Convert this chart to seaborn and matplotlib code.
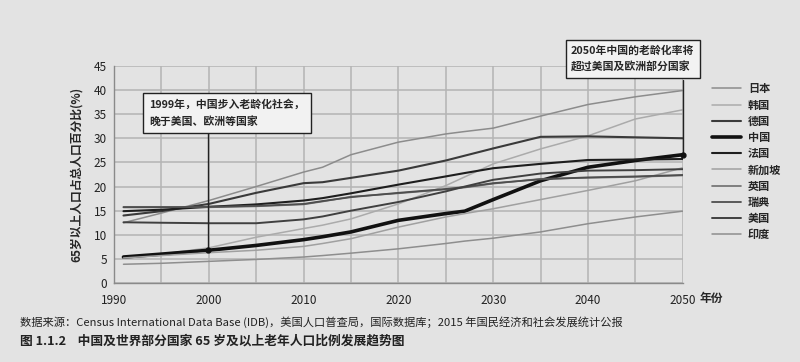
import matplotlib
matplotlib.use("Agg")
import matplotlib.pyplot as plt
import seaborn as sns
import pandas as pd

years = [1991, 1995, 2000, 2005, 2010, 2012, 2015, 2020, 2025, 2027, 2030, 2035, 2040, 2045, 2050]

japan     = [12.5, 14.5, 17.1, 20.0, 23.0, 24.0, 26.6, 29.2, 30.9, 31.4, 32.1, 34.6, 37.0, 38.6, 39.9]
korea     = [5.2, 6.0, 7.3, 9.5, 11.3, 12.0, 13.3, 16.4, 20.2, 22.0, 24.7, 27.8, 30.5, 34.0, 35.9]
germany   = [14.0, 14.9, 16.4, 18.7, 20.7, 20.9, 21.8, 23.3, 25.4, 26.4, 27.9, 30.3, 30.4, 30.2, 30.0]
china     = [5.4, 6.0, 6.8, 7.8, 9.0, 9.6, 10.6, 13.0, 14.4, 14.9, 17.3, 21.2, 24.0, 25.4, 26.6]
france    = [14.9, 15.2, 15.8, 16.3, 17.1, 17.6, 18.6, 20.4, 22.1, 22.8, 23.8, 24.7, 25.5, 25.6, 25.7]
singapore = [5.2, 5.7, 6.3, 6.8, 7.6, 8.2, 9.2, 11.6, 13.7, 14.4, 15.4, 17.3, 19.2, 21.2, 23.9]
uk        = [15.8, 15.8, 15.7, 15.9, 16.3, 16.9, 17.9, 18.6, 19.4, 19.8, 20.6, 21.6, 21.8, 22.0, 22.3]
sweden    = [15.7, 15.7, 15.8, 16.0, 16.4, 17.0, 17.8, 18.7, 19.5, 19.9, 20.7, 21.5, 21.9, 22.1, 22.4]
usa       = [12.6, 12.5, 12.4, 12.4, 13.2, 13.8, 15.0, 16.8, 19.0, 20.0, 21.4, 22.7, 23.3, 23.4, 23.6]
india     = [3.9, 4.1, 4.5, 4.9, 5.4, 5.7, 6.2, 7.1, 8.2, 8.7, 9.3, 10.6, 12.3, 13.7, 14.9]

countries = ["日本", "韩国", "德国", "中国", "法国", "新加坡", "英国", "瑞典", "美国", "印度"]
series = [japan, korea, germany, china, france, singapore, uk, sweden, usa, india]
colors = ["#8c8c8c", "#ababab", "#3a3a3a", "#111111", "#1e1e1e",
          "#a0a0a0", "#6e6e6e", "#4e4e4e", "#404040", "#8e8e8e"]
widths = [1.1, 1.1, 1.5, 2.6, 1.5, 1.1, 1.2, 1.3, 1.4, 1.1]

df = pd.DataFrame({"year": years})
for name, vals in zip(countries, series):
    df[name] = vals

sns.set_style("white")
plt.rcParams['font.family'] = ['Noto Sans CJK SC', 'DejaVu Sans']

bg = "#e3e3e3"
fig = plt.figure(figsize=(8, 3.62), dpi=100, facecolor=bg)
ax = fig.add_axes([0.1425, 0.218, 0.711, 0.600], facecolor=bg)

for name, c, w in zip(countries, colors, widths):
    sns.lineplot(data=df, x="year", y=name, ax=ax, color=c, lw=w, label=name, zorder=3)

ax.set_xlim(1990, 2050)
ax.set_ylim(0, 45)
ax.set_xticks(range(1990, 2051, 10))
ax.set_xticks(range(1990, 2051, 5), minor=True)
ax.set_yticks(range(0, 46, 5))
ax.grid(True, which="both", color="#b4b4b4", lw=1.1, zorder=0)
for s in ["top", "right"]:
    ax.spines[s].set_visible(False)
for s in ["left", "bottom"]:
    ax.spines[s].set_color("#8a8a8a")
    ax.spines[s].set_linewidth(1.0)
ax.tick_params(axis="both", which="both", length=0, labelsize=8.5, colors="#222222")
ax.tick_params(axis="x", pad=8)
ax.tick_params(axis="y", pad=5)
ax.set_xlabel("")
ax.set_ylabel("65岁以上人口占总人口百分比(%)", fontsize=8.5, fontweight="bold", labelpad=8)

ax.text(1.03, -0.07, "年份", transform=ax.transAxes, fontsize=8.5, fontweight="bold",
        ha="left", va="center")

# annotations
cx = 1999.9
cy = df.loc[df.year == 2000, "中国"].iloc[0]
ax.plot([cx, cx], [cy, 32.0], color="#222222", lw=1.0, zorder=4)
ax.plot(cx, cy, "o", color="#111111", ms=3.5, zorder=5)
ax.text(1993.7, 35.3, "1999年，中国步入老龄化社会，\n晚于美国、欧洲等国家", fontsize=7.8,
        fontweight="bold", ha="left", va="center", linespacing=1.7, zorder=6,
        bbox=dict(boxstyle="square,pad=0.55", fc="#f2f2f2", ec="#222222", lw=1.0))

ex = 2050
ey = df.loc[df.year == 2050, "中国"].iloc[0]
ax.plot([ex, ex], [ey, 42.0], color="#222222", lw=1.0, zorder=4, clip_on=False)
ax.plot(ex, ey, "o", color="#111111", ms=3.5, zorder=5, clip_on=False)
ax.text(2038.2, 46.4, "2050年中国的老龄化率将\n超过美国及欧洲部分国家", fontsize=7.8,
        fontweight="bold", ha="left", va="center", linespacing=1.7, zorder=6,
        bbox=dict(boxstyle="square,pad=0.5", fc="#f2f2f2", ec="#222222", lw=1.0))

handles, labels = ax.get_legend_handles_labels()
ax.legend_.remove()
fig.legend(handles, labels, loc="upper left", bbox_to_anchor=(0.885, 0.785),
           frameon=False, handlelength=2.6, handletextpad=0.6,
           labelspacing=0.29, borderaxespad=0,
           prop={"size": 8, "weight": "bold"})

fig.text(0.025, 0.11, "数据来源：Census International Data Base (IDB)，美国人口普查局，国际数据库；2015 年国民经济和社会发展统计公报",
         fontsize=8.1, ha="left", va="center", color="#222222")
fig.text(0.025, 0.057, "图 1.1.2    中国及世界部分国家 65 岁及以上老年人口比例发展趋势图",
         fontsize=9.2, fontweight="bold", ha="left", va="center", color="#222222")

fig.savefig("out.png", dpi=100, facecolor=bg)
plt.close()
